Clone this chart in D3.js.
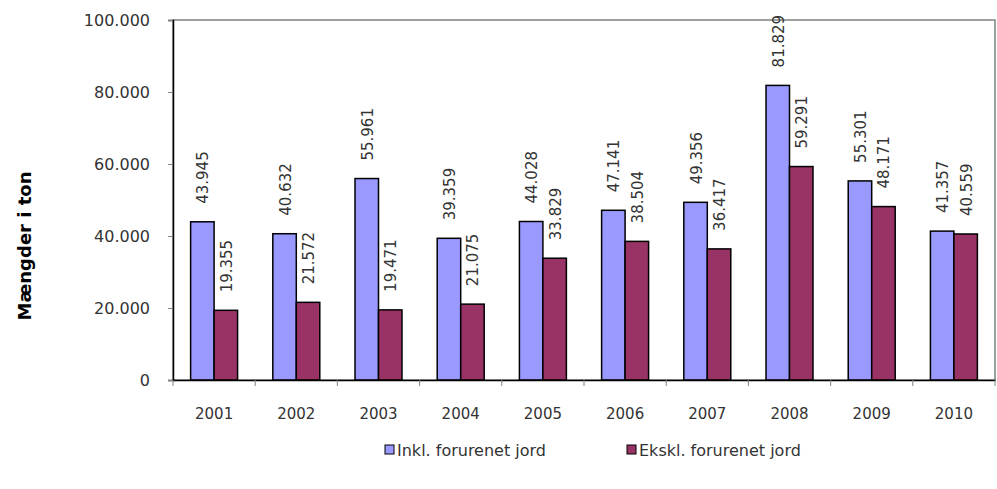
<!DOCTYPE html>
<html>
<head>
<meta charset="utf-8">
<script src="https://cdn.jsdelivr.net/npm/d3@7"></script>
<style>
  body { margin: 0; background: #fff; }
  svg text { font-family: "DejaVu Sans", sans-serif; fill: #333; }
</style>
</head>
<body>
<div id="chart"></div>
<script>
const years = ["2001", "2002", "2003", "2004", "2005", "2006", "2007", "2008", "2009", "2010"]
const inklValues = [43945, 40632, 55961, 39359, 44028, 47141, 49356, 81829, 55301, 41357]
const ekskValues = [19355, 21572, 19471, 21075, 33829, 38504, 36417, 59291, 48171, 40559]
const yTicks = [0, 20000, 40000, 60000, 80000, 100000]
const seriesNames = ["Inkl. forurenet jord", "Ekskl. forurenet jord"]
const seriesColors = ["#9999ff", "#993366"]

const width = 997, height = 489
const margin = { top: 20, right: 2, bottom: 109, left: 173 }

const locale = d3.formatLocale({ decimal: ",", thousands: ".", grouping: [3], currency: ["", " kr."] })
const fmt = locale.format(",d")

const svg = d3.select("#chart").append("svg")
  .attr("width", width).attr("height", height)

const x = d3.scaleBand()
  .domain(years)
  .range([margin.left, width - margin.right])
  .paddingInner(0)

// gap width 150% like the spreadsheet default
const inner = d3.scaleBand()
  .domain([0, 1])
  .range([0, x.bandwidth()])
  .paddingInner(0)
  .paddingOuter(0.75)

const y = d3.scaleLinear()
  .domain([0, 100000])
  .range([height - margin.bottom, margin.top])

// plot border (top/right)
svg.append("rect")
  .attr("x", margin.left).attr("y", margin.top)
  .attr("width", width - margin.right - margin.left)
  .attr("height", height - margin.bottom - margin.top)
  .attr("fill", "none").attr("stroke", "#808080").attr("stroke-width", 1.5)

const series = [inklValues, ekskValues]
series.forEach((vals, s) => {
  svg.append("g").selectAll("rect")
    .data(vals)
    .enter()
    .append("rect")
    .attr("x", (d, i) => x(years[i]) + inner(s))
    .attr("y", d => y(d))
    .attr("width", inner.bandwidth())
    .attr("height", d => y(0) - y(d))
    .attr("fill", seriesColors[s])
    .attr("stroke", "#000").attr("stroke-width", 1.5)

  svg.append("g").selectAll("text")
    .data(vals)
    .enter()
    .append("text")
    .attr("transform", (d, i) => `translate(${x(years[i]) + inner(s) + inner.bandwidth() / 2 + 6},${y(d) - 18}) rotate(-90)`)
    .attr("font-size", 15)
    .text(d => fmt(d))
})

// y axis
const yAxis = svg.append("g")
  .attr("transform", `translate(${margin.left},0)`)
  .call(d3.axisLeft(y).tickValues(yTicks).tickFormat(fmt).tickSize(5).tickPadding(18))
yAxis.select(".domain").attr("stroke", "#000").attr("stroke-width", 1.5)
yAxis.selectAll(".tick line").attr("stroke", "#808080")
yAxis.selectAll("text").attr("font-size", 16).attr("fill", "#333")
  .style("font-family", "DejaVu Sans, sans-serif")

// x axis
const xAxis = svg.append("g")
  .attr("transform", `translate(0,${y(0)})`)
  .call(d3.axisBottom(x).tickSize(0).tickPadding(28))
xAxis.select(".domain").attr("stroke", "#000").attr("stroke-width", 1.5)
xAxis.selectAll("text").attr("font-size", 15).attr("fill", "#333")
  .style("font-family", "DejaVu Sans, sans-serif")

// category separator ticks
svg.append("g").selectAll("line")
  .data(years.concat(["end"]))
  .enter()
  .append("line")
  .attr("x1", (d, i) => i < years.length ? x(d) : x(years[years.length - 1]) + x.bandwidth())
  .attr("x2", (d, i) => i < years.length ? x(d) : x(years[years.length - 1]) + x.bandwidth())
  .attr("y1", y(0)).attr("y2", y(0) + 6)
  .attr("stroke", "#808080")

// y title
svg.append("text")
  .attr("transform", `translate(31,246) rotate(-90)`)
  .attr("text-anchor", "middle")
  .attr("font-size", 18).attr("font-weight", "bold")
  .style("fill", "#000")
  .text("Mængder i ton")

// legend
const legendX = [385, 627]
seriesNames.forEach((name, s) => {
  const g = svg.append("g").attr("transform", `translate(${legendX[s]},450)`)
  g.append("rect")
    .attr("x", 0).attr("y", -5).attr("width", 9).attr("height", 9)
    .attr("fill", seriesColors[s]).attr("stroke", "#000").attr("stroke-width", 1)
  g.append("text")
    .attr("x", 12).attr("y", 0).attr("dy", "0.35em")
    .attr("font-size", 16)
    .text(name)
})
</script>
</body>
</html>
